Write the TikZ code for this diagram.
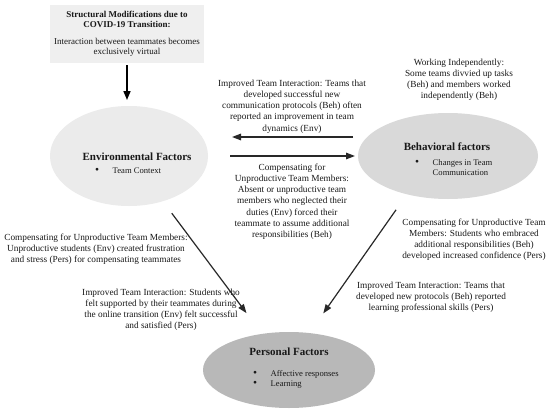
\documentclass[tikz,border=0pt]{standalone}
\usepackage{fontspec}
\setmainfont{Liberation Serif}
\usetikzlibrary{arrows.meta,shapes.geometric}
\definecolor{boxc}{RGB}{239,239,239}
\definecolor{envc}{RGB}{235,235,235}
\definecolor{behc}{RGB}{217,217,217}
\definecolor{persc}{RGB}{184,184,184}
\definecolor{txt}{RGB}{25,25,25}
\definecolor{arrc}{RGB}{40,40,40}
\newcommand{\mltext}[1]{\begin{tabular}[t]{@{}c@{}}#1\end{tabular}}
\newcommand{\blist}[1]{\begin{tabular}[t]{@{}l@{\hspace{13.5pt}}l@{}}#1\end{tabular}}
\newcommand{\bdot}{\raisebox{-0.6pt}{\fontsize{11.5}{10}\selectfont\textbullet}}
\tikzset{
  lbl/.style={font=\fontsize{9.3}{11.3}\selectfont, inner sep=0pt, anchor=base, text=txt},
  ttl/.style={font=\fontsize{11}{13}\selectfont\bfseries, inner sep=0pt, anchor=base, text=txt},
  blst/.style={font=\fontsize{8.6}{10}\selectfont, inner sep=0pt, anchor=base west, text=txt},
  factor/.style={ellipse, inner sep=0pt, outer sep=0pt},
  arrA/.style={draw=black, line width=1.6pt, -{Triangle[length=9pt,width=7pt]}},
  arrB/.style={draw=arrc, line width=1.4pt, -{Triangle[length=9pt,width=6.5pt]}},
  arrC/.style={draw=arrc, line width=1.2pt, -{Triangle[length=9pt,width=6.5pt]}}
}
\begin{document}
\begin{tikzpicture}[x=1pt,y=-1pt]
\useasboundingbox[fill=white] (0,0) rectangle (550,410);
% top box
\node[fill=boxc, minimum width=154pt, minimum height=58pt, inner sep=0pt, text=txt,
      font=\fontsize{9}{10}\selectfont] (box) at (127,34)
  {\begin{tabular}{@{}c@{}}\textbf{Structural Modifications due to}\\\textbf{COVID-19 Transition:}\\[7pt]Interaction between teammates becomes\\exclusively virtual\end{tabular}};
% factor ellipses
\node[factor, fill=envc, minimum width=158pt, minimum height=100pt] (env) at (129,156) {};
\node[factor, fill=behc, minimum width=180pt, minimum height=86pt] (beh) at (448,156) {};
\node[factor, fill=persc, minimum width=172pt, minimum height=76pt] (pers) at (289,370) {};
% titles and lists
\node[ttl] (envt) at (137,160) {Environmental Factors};
\node[blst] (envl) at (95,173) {\blist{\bdot & Team Context}};
\node[ttl] (beht) at (447,150) {Behavioral factors};
\node[blst] (behl) at (415,165) {\blist{\bdot & Changes in Team\\ & Communication}};
\node[ttl] (perst) at (289,355) {Personal Factors};
\node[blst] (persl) at (253,376) {\blist{\bdot & Affective responses\\\bdot & Learning}};
% labels
\node[lbl] (ltop) at (292,86) {\mltext{Improved Team Interaction: Teams that\\developed successful new\\communication protocols (Beh) often\\reported an improvement in team\\dynamics (Env)}};
\node[lbl] (lwork) at (459,65) {\mltext{Working Independently:\\Some teams divvied up tasks\\(Beh) and members worked\\independently (Beh)}};
\node[lbl] (lmid) at (292,170) {\mltext{Compensating for\\Unproductive Team Members:\\Absent or unproductive team\\members who neglected their\\duties (Env) forced their\\teammate to assume additional\\responsibilities (Beh)}};
\node[lbl] (lleft) at (96,240) {\mltext{Compensating for Unproductive Team Members:\\Unproductive students (Env) created frustration\\and stress (Pers) for compensating teammates}};
\node[lbl] (llow) at (161,295) {\mltext{Improved Team Interaction: Students who\\felt supported by their teammates during\\the online transition (Env) felt successful\\and satisfied (Pers)}};
\node[lbl] (lright) at (474,225) {\mltext{Compensating for Unproductive Team\\Members: Students who embraced\\additional responsibilities (Beh)\\developed increased confidence (Pers)}};
\node[lbl] (lrr) at (431,288) {\mltext{Improved Team Interaction: Teams that\\developed new protocols (Beh) reported\\learning professional skills (Pers)}};
% connectors
\draw[arrA, shorten <=2pt, shorten >=6pt] (box.south) -- (box.south |- env.north);
\draw[arrB, shorten <=5pt, shorten >=24pt] ([yshift=19pt]beh.west) -- ([yshift=19pt]env.east);
\draw[arrB, shorten <=22pt, shorten >=3pt] (env.east) -- (beh.west);
\draw[arrC, shorten <=15pt, shorten >=26pt] (env) -- (pers);
\draw[arrC, shorten <=19pt, shorten >=24pt] (beh.223) -- (pers.61);
\end{tikzpicture}
\end{document}
